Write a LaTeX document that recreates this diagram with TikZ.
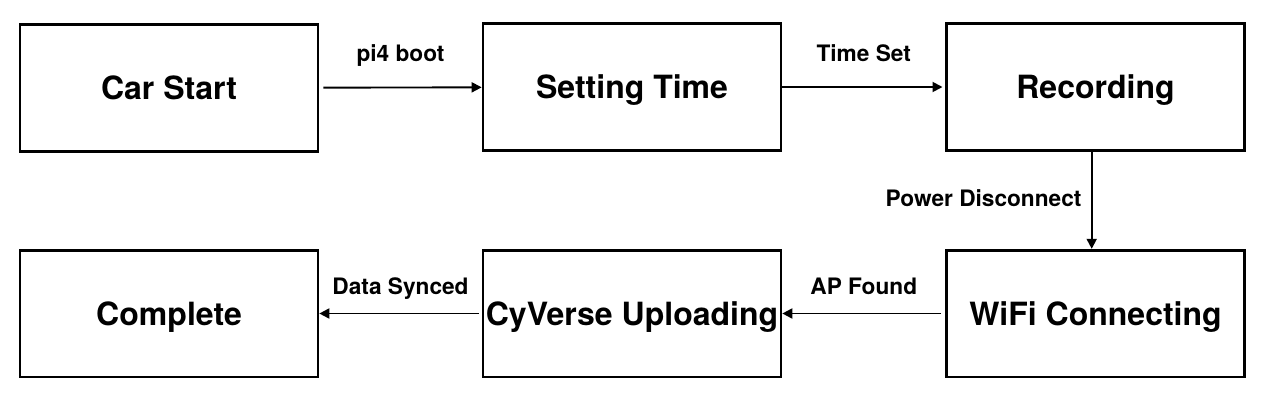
\documentclass[tikz,border=0pt]{standalone}
\usepackage{fontspec}
\setmainfont{TeX Gyre Heros}
\usetikzlibrary{arrows.meta, positioning}

\begin{document}
\begin{tikzpicture}[
    x=0.75pt, y=-0.75pt,
    state/.style={draw, line width=2pt, rectangle, minimum width=223.5pt, minimum height=95pt, inner sep=0pt, text height=21.3pt, text depth=4pt, font=\fontsize{24}{27}\selectfont\bfseries, fill=white},
    arrow/.style={-{Triangle[length=7.5pt, width=7.5pt]}, line width=1.4pt},
    event/.style={font=\fontsize{17}{20}\selectfont\bfseries, inner sep=0pt, text height=12pt, text depth=3pt}
]
\useasboundingbox (0,0) rectangle (1271,400);

% Top row
\node[state] (carstart) at (169,88) {Car Start};
\node[state] (settime) at (632,87) {Setting Time};
\node[state] (record) at (1095.5,87) {Recording};

% Bottom row
\node[state] (complete) at (169,313.5) {Complete};
\node[state] (upload) at (632,313.5) {CyVerse Uploading};
\node[state] (wifi) at (1095.5,313.5) {WiFi Connecting};

% Transitions
\draw[arrow, shorten <=3pt] (carstart) -- node[event, midway, yshift=24pt] {pi4 boot} (settime);
\draw[arrow, shorten >=2pt] (settime) -- node[event, midway, yshift=24pt] {Time Set} (record);
\draw[arrow] (record.south -| 1091.7,0) -- node[event, midway, left=7pt] {Power Disconnect} (wifi.north -| 1091.7,0);
\draw[arrow, shorten <=3pt] (wifi) -- node[event, midway, yshift=19pt] {AP Found} (upload);
\draw[arrow, shorten <=2pt] (upload) -- node[event, midway, yshift=19pt] {Data Synced} (complete);

\end{tikzpicture}
\end{document}
